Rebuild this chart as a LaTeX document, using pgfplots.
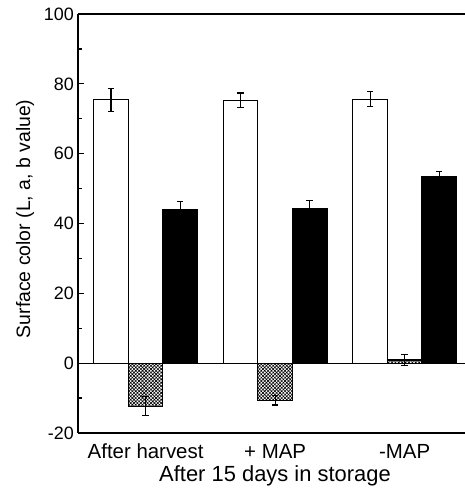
\documentclass[border=0pt]{standalone}
\usepackage{fontspec}
\setmainfont{Liberation Sans}
\usepackage{pgfplots}
\pgfplotsset{compat=1.18}
\usetikzlibrary{patterns.meta}
\pgfplotsset{myerr/.style={error bars/.cd, y dir=both, y explicit,
  error bar style={line width=1.2bp, black},
  error mark options={rotate=90, mark size=3.2bp, line width=1.2bp, black}}}
\begin{document}
\begin{tikzpicture}
\begin{axis}[
  scale only axis, width=387bp, height=419bp,
  xmin=-0.522, xmax=2.466,
  ymin=-20, ymax=100,
  ytick={-20,0,20,40,60,80,100}, minor ytick={-10,10,30,50,70,90},
  axis x line*=box, axis y line*=left,
  axis line style={-, line width=1.4bp},
  xtick={0,1,2}, xticklabels={After harvest, + MAP, -MAP},
  major x tick style={draw=none},
  tick align=inside, major tick length=6bp, minor tick length=4bp,
  every tick/.style={line width=1.2bp, black},
  /pgf/number format/assume math mode=true,
  yticklabel style={font=\fontsize{18}{18}\selectfont, anchor=east, inner sep=0pt, xshift=-4bp},
  xticklabel style={font=\fontsize{20.5}{20.5}\selectfont, anchor=base, inner sep=0pt, yshift=-19bp},
  xlabel={After 15 days in storage},
  xlabel style={font=\fontsize{22}{22}\selectfont, at={(axis description cs:0.509,0)}, anchor=base, inner sep=0pt, yshift=-48bp},
  ylabel={Surface color (L, a, b value)},
  ylabel style={font=\fontsize{19.5}{19.5}\selectfont, at={(axis description cs:0,0.511)}, anchor=center, inner sep=0pt, yshift=53bp},
  ybar=0pt, bar width=0.2665,
  clip=false,
]
\draw[line width=1.2bp] (axis cs:-0.522,0) -- (axis cs:2.466,0);
\addplot[draw=black, line width=1.2bp, fill=white, myerr] coordinates {
  (0,75.4) +- (0,3.3)
  (1,75.3) +- (0,2.1)
  (2,75.6) +- (0,2.1)
};
\addplot[draw=black, line width=1.2bp, pattern={Hatch[distance=2.4bp, angle=45, line width=0.6bp]}, pattern color=black, myerr] coordinates {
  (0,-12.3) +- (0,2.7)
  (1,-10.6) +- (0,1.4)
  (2,0.9) +- (0,1.5)
};
\addplot[draw=black, line width=1.2bp, fill=black, myerr] coordinates {
  (0,44.1) +- (0,2.1)
  (1,44.4) +- (0,2.3)
  (2,53.4) +- (0,1.5)
};
\end{axis}
\pgfresetboundingbox
\path[use as bounding box] (current axis.south west) ++(-78bp,-60bp) rectangle ++(465bp,493bp);
\end{tikzpicture}
\end{document}
